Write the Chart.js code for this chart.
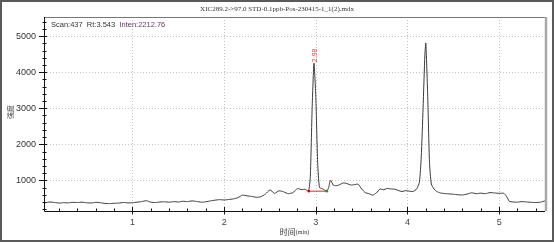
<!DOCTYPE html>
<html lang="zh">
<head>
  <meta charset="UTF-8" />
  <title>XIC 289.2->97.0</title>
  <script src="https://cdn.jsdelivr.net/npm/chart.js"></script>
  <style>
    body { margin: 0; background: #fff; }
    canvas { display: block; }
  </style>
</head>
<body>
<canvas id="xic" width="554" height="243"></canvas>

<script>
  // retention time (min) and intensity
  const times = [
    0.035, 0.05, 0.10, 0.15, 0.20, 0.25, 0.30, 0.35, 0.40, 0.45, 0.50, 0.55, 0.60, 0.65, 0.70, 0.75,
    0.80, 0.85, 0.90, 0.95, 1.00, 1.05, 1.10, 1.15, 1.20, 1.25, 1.30, 1.35, 1.40, 1.45, 1.50, 1.55,
    1.60, 1.65, 1.70, 1.75, 1.80, 1.85, 1.90, 1.95, 2.00, 2.05, 2.10, 2.15, 2.20, 2.25, 2.30, 2.35,
    2.40, 2.45, 2.50, 2.55, 2.60, 2.65, 2.70, 2.75, 2.80, 2.85, 2.88, 2.92, 2.94, 2.96, 2.98, 3.00,
    3.02, 3.04, 3.07, 3.10, 3.12, 3.14, 3.16, 3.19, 3.22, 3.26, 3.30, 3.34, 3.38, 3.42, 3.46, 3.50,
    3.54, 3.58, 3.62, 3.66, 3.70, 3.74, 3.78, 3.82, 3.86, 3.90, 3.94, 3.98, 4.02, 4.06, 4.10, 4.13,
    4.15, 4.17, 4.19, 4.20, 4.22, 4.24, 4.26, 4.29, 4.32, 4.36, 4.40, 4.45, 4.50, 4.55, 4.60, 4.65,
    4.70, 4.75, 4.80, 4.85, 4.90, 4.95, 5.00, 5.05, 5.08, 5.11, 5.15, 5.20, 5.25, 5.30, 5.35, 5.40,
    5.45, 5.50
  ];
  const intensity = [
    395, 380, 400, 385, 370, 380, 375, 390, 385, 395, 378, 372, 390, 380, 360, 355,
    365, 370, 385, 375, 380, 395, 410, 435, 395, 385, 400, 405, 395, 410, 400, 420,
    410, 430, 415, 395, 405, 430, 450, 465, 455, 470, 485, 520, 590, 570, 555, 530,
    545, 620, 735, 640, 710, 680, 630, 660, 770, 740, 755, 705, 1100, 3000, 4250, 3300,
    1500, 800, 770, 720, 700, 800, 1005, 870, 850, 880, 930, 910, 870, 880, 895, 760,
    660, 630, 590, 650, 760, 740, 775, 760, 755, 720, 690, 715, 700, 690, 760, 950,
    1650, 3000, 4500, 4806, 3400, 1500, 900, 760, 690, 650, 635, 625, 615, 600, 595, 620,
    655, 630, 645, 630, 660, 650, 640, 640, 560, 420, 400, 395, 410, 400, 390, 385,
    395, 430
  ];

  // integration baseline under the 2.98 peak
  const baseTimes = [2.924, 3.12];
  const baseLevel = [700, 700];

  const peakRt = 2.983;
  const peakHeight = 4250;
  const peakLabel = '2.98';

  const yTicks = [1000, 2000, 3000, 4000, 5000];
  const xTicks = [1, 2, 3, 4, 5];

  const titleText = 'XIC289.2->97.0 STD-0.1ppb-Pos-230415-1_1(2).mdx';
  const infoText = 'Scan:437  Rt:3.543  ';
  const intenText = 'Inten:2212.76';

  const decor = {
    id: 'decor',
    beforeDatasetsDraw(chart) {
      const { ctx, chartArea: a, scales: { x, y } } = chart;
      ctx.save();
      ctx.strokeStyle = '#c4c4c4';
      ctx.lineWidth = 1;
      ctx.setLineDash([1, 2]);
      yTicks.forEach(v => {
        const py = Math.round(y.getPixelForValue(v)) + 0.5;
        ctx.beginPath(); ctx.moveTo(a.left, py); ctx.lineTo(a.right, py); ctx.stroke();
      });
      xTicks.forEach(v => {
        const px = Math.round(x.getPixelForValue(v)) + 0.5;
        ctx.beginPath(); ctx.moveTo(px, a.top); ctx.lineTo(px, a.bottom); ctx.stroke();
      });
      ctx.restore();
    },
    afterDraw(chart) {
      const { ctx, chartArea: a, scales: { x, y } } = chart;
      ctx.save();

      // outer frame
      ctx.strokeStyle = '#5a5a5a';
      ctx.lineWidth = 2;
      ctx.strokeRect(1, 1, 552, 240);

      // plot frame: top thin, right thick grey, left/bottom axes black
      ctx.lineWidth = 1;
      ctx.strokeStyle = '#777';
      ctx.beginPath(); ctx.moveTo(a.left, a.top + 0.5); ctx.lineTo(a.right, a.top + 0.5); ctx.stroke();
      ctx.strokeStyle = '#a8a8a8';
      ctx.lineWidth = 2.5;
      ctx.beginPath(); ctx.moveTo(a.right + 1, a.top); ctx.lineTo(a.right + 1, a.bottom); ctx.stroke();
      ctx.strokeStyle = '#111';
      ctx.lineWidth = 1;
      ctx.beginPath();
      ctx.moveTo(a.left + 0.5, a.top); ctx.lineTo(a.left + 0.5, a.bottom + 0.5);
      ctx.lineTo(a.right, a.bottom + 0.5);
      ctx.stroke();

      // tick marks
      ctx.beginPath();
      for (let v = 200; v <= 5400; v += 200) {
        const py = Math.round(y.getPixelForValue(v)) + 0.5;
        const major = v % 1000 === 0;
        ctx.moveTo(a.left - (major ? 5 : 1.5), py);
        ctx.lineTo(a.left + (major ? 3 : 2.5), py);
      }
      for (let i = 1; i <= 27; i++) {
        const t = i * 0.2;
        const px = Math.round(x.getPixelForValue(t)) + 0.5;
        const major = i % 5 === 0;
        ctx.moveTo(px, a.bottom - (major ? 4 : 2.5));
        ctx.lineTo(px, a.bottom + (major ? 3.5 : 1));
      }
      ctx.stroke();

      // title
      ctx.fillStyle = '#333';
      ctx.font = '7px "Liberation Serif", serif';
      ctx.textAlign = 'center';
      ctx.textBaseline = 'middle';
      ctx.fillText(titleText, 277, 9);

      // scan info
      ctx.font = '7.5px "Liberation Sans", Arial, sans-serif';
      ctx.textAlign = 'left';
      ctx.fillStyle = '#333';
      ctx.fillText(infoText, a.left + 7, 24.5);
      const w = ctx.measureText(infoText).width;
      ctx.fillStyle = '#5a3a5e';
      ctx.fillText(intenText, a.left + 7 + w, 24.5);

      // peak label
      ctx.save();
      ctx.translate(x.getPixelForValue(peakRt) + 0.5, y.getPixelForValue(peakHeight) - 1);
      ctx.rotate(-Math.PI / 2);
      ctx.fillStyle = '#ff3b3b';
      ctx.font = '7px "Liberation Sans", Arial, sans-serif';
      ctx.textAlign = 'left';
      ctx.textBaseline = 'middle';
      ctx.fillText(peakLabel, 0, 0);
      ctx.restore();

      // y axis title
      ctx.save();
      ctx.translate(10, 112);
      ctx.rotate(-Math.PI / 2);
      ctx.fillStyle = '#444';
      ctx.font = '7px "Noto Sans CJK SC", sans-serif';
      ctx.textAlign = 'center';
      ctx.textBaseline = 'middle';
      ctx.fillText('强度', 0, 0);
      ctx.restore();

      // x axis title
      ctx.fillStyle = '#333';
      ctx.textBaseline = 'middle';
      ctx.textAlign = 'left';
      const cn = '时间';
      ctx.font = '8px "Noto Sans CJK SC", sans-serif';
      const w1 = ctx.measureText(cn).width;
      ctx.font = '6px "Liberation Serif", serif';
      const w2 = ctx.measureText('(min)').width;
      const sx = (a.left + a.right) / 2 - (w1 + w2) / 2;
      ctx.font = '8px "Noto Sans CJK SC", sans-serif';
      ctx.fillText(cn, sx, 232);
      ctx.font = '6px "Liberation Serif", serif';
      ctx.fillText('(min)', sx + w1, 232.5);

      ctx.restore();
    }
  };

  new Chart(document.getElementById('xic'), {
    type: 'line',
    data: {
      datasets: [
        {
          data: times.map((t, i) => ({ x: t, y: intensity[i] })),
          borderColor: '#3a3a3a',
          borderWidth: 1,
          pointRadius: 0,
          tension: 0.2,
          order: 2
        },
        {
          data: baseTimes.map((t, i) => ({ x: t, y: baseLevel[i] })),
          borderColor: '#ee2222',
          borderWidth: 1,
          pointRadius: 1.3,
          pointBorderWidth: 0,
          pointBackgroundColor: ['#e00000', '#10a010'],
          order: 1
        }
      ]
    },
    options: {
      responsive: false,
      devicePixelRatio: 1,
      animation: false,
      layout: { padding: { top: 17, right: 9, left: 0, bottom: 0 } },
      plugins: { legend: { display: false }, tooltip: { enabled: false } },
      scales: {
        x: {
          type: 'linear',
          min: 0.035,
          max: 5.5,
          grid: { display: false },
          border: { display: false },
          afterBuildTicks(scale) { scale.ticks = xTicks.map(v => ({ value: v })); },
          afterFit(scale) { scale.height = 32; },
          ticks: {
            padding: -2,
            color: '#444',
            maxRotation: 0,
            callback: v => String(v),
            font: { size: 9, family: '"Liberation Sans", Arial, sans-serif' }
          }
        },
        y: {
          min: 150,
          max: 5530,
          grid: { display: false },
          border: { display: false },
          afterBuildTicks(scale) { scale.ticks = yTicks.map(v => ({ value: v })); },
          afterFit(scale) { scale.width = 44; },
          ticks: {
            padding: 0,
            color: '#333',
            callback: v => String(v),
            font: { size: 9, family: '"Liberation Sans", Arial, sans-serif' }
          }
        }
      }
    },
    plugins: [decor]
  });
</script>
</body>
</html>
